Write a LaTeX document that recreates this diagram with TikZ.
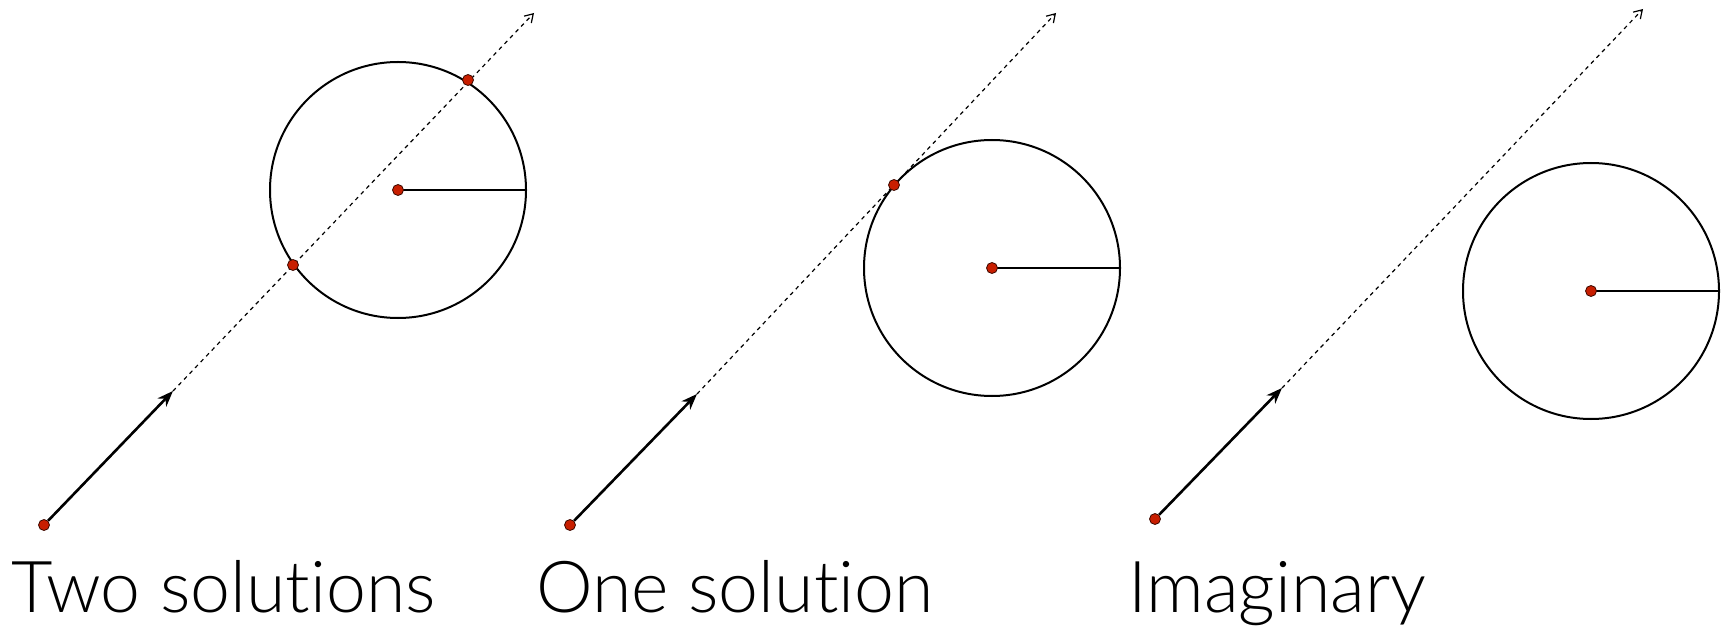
\documentclass[tikz,border=0pt]{standalone}
\usepackage{fontspec}
\setmainfont{Lato Light}[Ligatures=NoCommon]
\usetikzlibrary{arrows.meta}
\definecolor{dotred}{RGB}{200,30,0}
\tikzset{
  pt/.style={circle,fill=dotred,draw=black!70!dotred,line width=0.4pt,inner sep=0pt,minimum size=5.5pt},
  ray/.style={draw=black,line width=0.6pt,dash pattern=on 2pt off 2pt,-{Straight Barb[length=4pt,width=5pt]}},
  dir/.style={draw=black,line width=1.3pt,-{Stealth[length=8pt,width=6pt]}},
  ball/.style={draw=black,line width=1pt},
  rad/.style={draw=black,line width=0.6pt},
  lbl/.style={anchor=base west,inner sep=0pt,font=\fontsize{35.8}{38}\selectfont}
}
\begin{document}
\begin{tikzpicture}[x=0.5pt,y=-0.5pt]
\useasboundingbox (0,0) rectangle (1729,636);
% panel 1
\coordinate (c1) at (398,190);
\draw[ball] (c1) circle[radius=128];
\coordinate (r1) at (526,190);
\draw[rad] (c1) -- (r1);
\coordinate (t1) at (173,391);
\coordinate (e1) at (534,13);
\draw[ray] (t1) -- (e1);
\node[pt] (s1) at (44,525) {};
\draw[dir] (s1) -- (t1);
\node[pt] (c1dot) at (c1) {};
\node[pt] (p1a) at (468,80) {};
\node[pt] (p1b) at (293,265) {};
\node[lbl] (l1) at (11,612) {Two solutions};
% panel 2
\coordinate (c2) at (992,268);
\draw[ball] (c2) circle[radius=128];
\coordinate (r2) at (1120,268);
\draw[rad] (c2) -- (r2);
\coordinate (t2) at (697,394);
\coordinate (e2) at (1056,13);
\draw[ray] (t2) -- (e2);
\node[pt] (s2) at (570,525) {};
\draw[dir] (s2) -- (t2);
\node[pt] (c2dot) at (c2) {};
\node[pt] (p2) at (894,185) {};
\node[lbl] (l2) at (536,612) {One solution};
% panel 3
\coordinate (c3) at (1591,291);
\draw[ball] (c3) circle[radius=128];
\coordinate (r3) at (1719,291);
\draw[rad] (c3) -- (r3);
\coordinate (t3) at (1282,388);
\coordinate (e3) at (1643,9);
\draw[ray] (t3) -- (e3);
\node[pt] (s3) at (1155,519) {};
\draw[dir] (s3) -- (t3);
\node[pt] (c3dot) at (c3) {};
\node[lbl] (l3) at (1128,612) {Imaginary};
\end{tikzpicture}
\end{document}
